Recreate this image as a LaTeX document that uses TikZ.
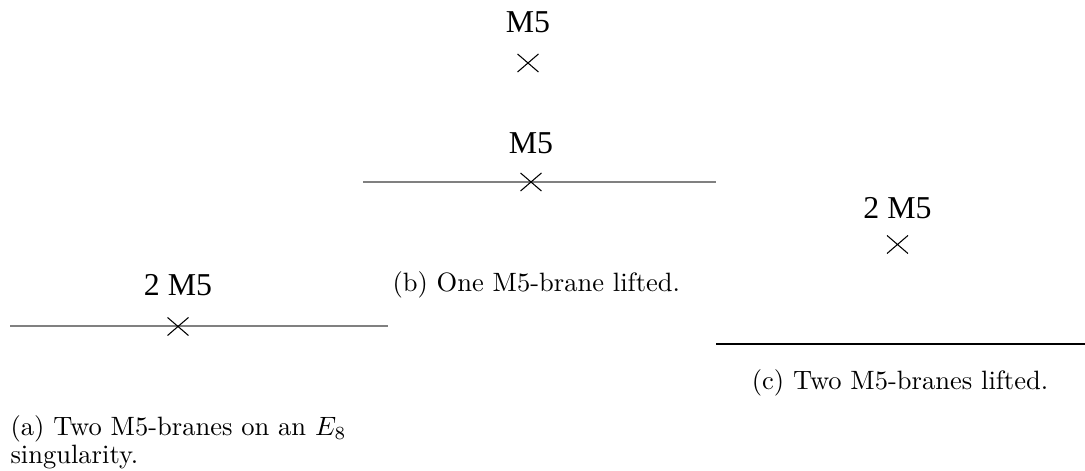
\documentclass[tikz,border=0pt]{standalone}
\usepackage{fontspec}
\newfontfamily\branefont{Liberation Serif}
\usetikzlibrary{shapes.misc, positioning}
\definecolor{branegray}{RGB}{128, 128, 128}
\tikzset{
    wall/.style={draw=branegray, line width=0.75pt},
    flatwall/.style={draw=black, line width=0.45pt},
    m5/.style={cross out, draw=black, line width=0.4pt, inner sep=0pt, minimum width=7.5pt, minimum height=6.4pt},
    m5label/.style={font=\branefont\fontsize{12}{14}\selectfont, inner sep=0pt},
    subcap/.style={font=\fontsize{10}{10.5}\selectfont, inner sep=0pt, align=left}
}

\begin{document}
\begin{tikzpicture}[x=0.377pt, y=-0.377pt]
    \useasboundingbox (0,0) rectangle (1085,471);

    % (a) Two branes on the wall
    \coordinate (aL) at (10,326.5);
    \coordinate (aR) at (388,326.5);
    \draw [wall] (aL) -- (aR);
    \node (ax) [m5] at (178,326.5) {};
    \node (alab) [m5label, above=7.9pt of ax] {2 M5};
    \node (acap) [subcap, text width=142pt, anchor=north west] at (10,415) {(a) Two M5-branes on an $E_8$ singularity.};

    % (b) One brane lifted
    \coordinate (bL) at (363,182);
    \coordinate (bR) at (716,182);
    \draw [wall] (bL) -- (bR);
    \node (bx) [m5] at (531,182) {};
    \node (blab) [m5label, above=7.2pt of bx] {M5};
    \node (bxup) [m5] at (528,63) {};
    \node (blabup) [m5label, above=7.9pt of bxup] {M5};
    \node (bcap) [subcap, anchor=base west] at (392,292) {(b) One M5-brane lifted.};

    % (c) Both branes lifted
    \coordinate (cL) at (716,344);
    \coordinate (cR) at (1085,344);
    \draw [flatwall] (cL) -- (cR);
    \node (cx) [m5] at (897.5,244.5) {};
    \node (clab) [m5label, above=6pt of cx] {2 M5};
    \node (ccap) [subcap, anchor=base] at (900,390) {(c) Two M5-branes lifted.};

\end{tikzpicture}
\end{document}
